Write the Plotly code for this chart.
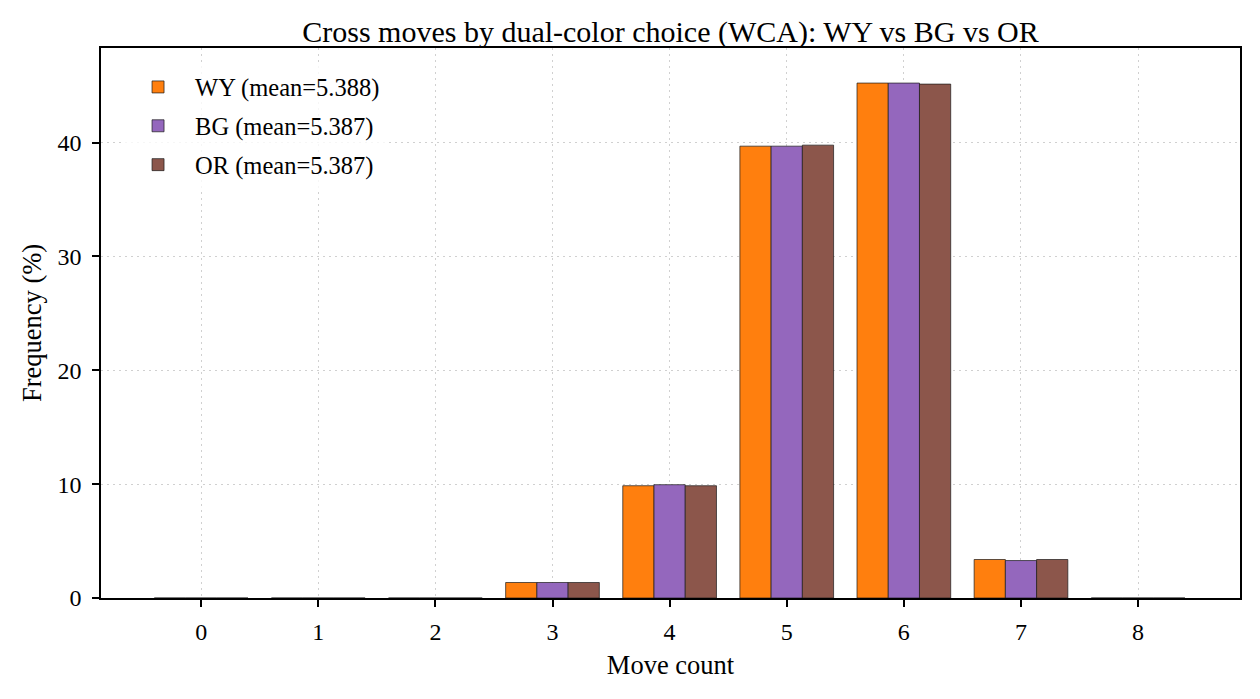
import plotly.graph_objects as go

move_counts = [0, 1, 2, 3, 4, 5, 6, 7, 8]
wy_freq = [0.0, 0.0, 0.0, 1.36, 9.86, 39.68, 45.22, 3.38, 0.0]
bg_freq = [0.0, 0.0, 0.0, 1.36, 9.95, 39.68, 45.22, 3.29, 0.0]
or_freq = [0.0, 0.0, 0.0, 1.36, 9.86, 39.77, 45.13, 3.38, 0.0]
series_names = ["WY (mean=5.388)", "BG (mean=5.387)", "OR (mean=5.387)"]
series_colors = ["#ff7f0e", "#9467bd", "#8c564b"]

fig = go.Figure()
for i, (name, vals, col) in enumerate(zip(series_names, [wy_freq, bg_freq, or_freq], series_colors)):
    fig.add_trace(go.Bar(
        x=move_counts, y=vals, name=name, legendgroup=f"g{i}",
        marker=dict(color=col, line=dict(color="#1a1a1a", width=0.7)),
    ))

font_family = "Liberation Serif, Times New Roman, serif"
fig.update_layout(
    width=1260, height=699,
    paper_bgcolor="white", plot_bgcolor="white",
    margin=dict(l=101, r=20, t=48, b=101),
    barmode="group", bargap=0.2, bargroupgap=0,
    font=dict(family=font_family, size=24, color="black"),
    title=dict(text="Cross moves by dual-color choice (WCA): WY vs BG vs OR",
               xref="paper", x=0.5, xanchor="center", y=1 - 31 / 699, yanchor="middle",
               font=dict(size=30, family=font_family)),
    legend=dict(x=0.0176, y=0.97, xanchor="left", yanchor="top",
                bgcolor="rgba(255,255,255,0.8)", borderwidth=0,
                font=dict(size=24.5, family=font_family),
                itemwidth=64, tracegroupgap=4),
    showlegend=True,
)
fig.update_xaxes(
    range=[-0.855, 8.87], tickmode="array", tickvals=move_counts,
    ticktext=[str(v) for v in move_counts],
    title=dict(text="Move count", font=dict(size=26.5), standoff=12),
    showline=True, linecolor="black", linewidth=1.5, mirror=True,
    ticks="outside", ticklen=7, tickcolor="black", tickwidth=1.5,
    tickfont=dict(size=24), ticklabelstandoff=4,
    showgrid=True, gridcolor="#d0d0d0", griddash="2px,4px", gridwidth=1,
    zeroline=False,
)
fig.update_yaxes(
    range=[0, 48.3], tickvals=[0, 10, 20, 30, 40],
    title=dict(text="Frequency (%)", font=dict(size=26.5), standoff=8),
    showline=True, linecolor="black", linewidth=1.5, mirror=True,
    ticks="outside", ticklen=7, tickcolor="black", tickwidth=1.5,
    tickfont=dict(size=24), ticklabelstandoff=6,
    showgrid=True, gridcolor="#d0d0d0", griddash="2px,4px", gridwidth=1,
    zeroline=False,
)

fig.write_html("out.html", config={"displayModeBar": False},
               post_script="document.body.style.margin='0';document.body.style.padding='0';")
